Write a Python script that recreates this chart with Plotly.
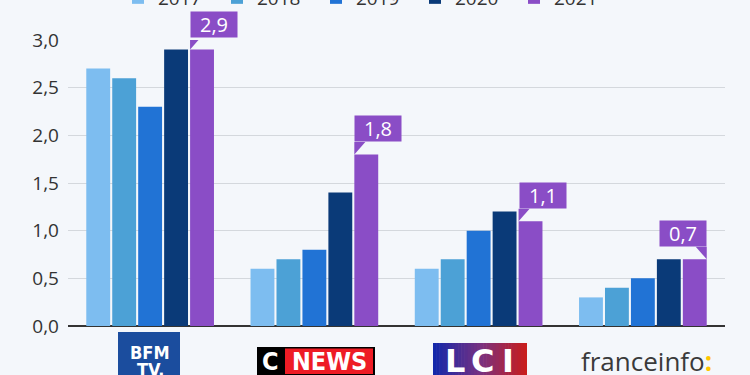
import plotly.graph_objects as go

channels = ["BFM TV", "CNEWS", "LCI", "franceinfo"]
years = ["2017", "2018", "2019", "2020", "2021"]
values = {
    "2017": [2.7, 0.6, 0.6, 0.3],
    "2018": [2.6, 0.7, 0.7, 0.4],
    "2019": [2.3, 0.8, 1.0, 0.5],
    "2020": [2.9, 1.4, 1.2, 0.7],
    "2021": [2.9, 1.8, 1.1, 0.7],
}
colors = ["#7dbdf0", "#4ca1d6", "#2173d5", "#0a3a78", "#8a4dc6"]
yticks = [0, 0.5, 1.0, 1.5, 2.0, 2.5, 3.0]

W, H = 750, 375
ML, MR, MT, MB = 68, 25, 40, 49
PW, PH = W - ML - MR, H - MT - MB
BARGAP, GROUPGAP = 0.21, 0.08

def px2paper_x(px):
    return (px - ML) / PW

def px2paper_y(py):
    return (H - MB - py) / PH

fig = go.Figure()
xs = list(range(len(channels)))
for y, c in zip(years, colors):
    fig.add_trace(go.Bar(x=xs, y=values[y], name=y, marker_color=c,
                         marker_line_width=0))

# callouts for 2021 values
n = len(years)
slot = (1 - BARGAP) / n
bw = slot * (1 - GROUPGAP)
purple = colors[-1]
for i, v in enumerate(values["2021"]):
    center = i - (1 - BARGAP) / 2 + slot * (n - 0.5)
    left, right = center - bw / 2, center + bw / 2
    last = i == len(channels) - 1
    fig.add_annotation(
        x=right if last else left, y=v, xref="x", yref="y",
        xanchor="right" if last else "left", yanchor="bottom",
        yshift=12, showarrow=False,
        text=f"{v:.1f}".replace(".", ","),
        font=dict(family="Open Sans", size=20, color="white"),
        bgcolor=purple, borderpad=2, width=42, height=21, align="center",
    )
    path = "M 0 0 L 0 12.5 L -11 12.5 Z" if last else "M 0 0 L 0 12.5 L 11 12.5 Z"
    fig.add_shape(type="path", xref="x", yref="y",
                  xsizemode="pixel", ysizemode="pixel",
                  xanchor=right if last else left, yanchor=v,
                  path=path, fillcolor=purple, line_width=0, layer="above")

def label(px, py, text, size, color="white", family="DejaVu Sans Condensed"):
    fig.add_annotation(xref="paper", yref="paper", x=px2paper_x(px), y=px2paper_y(py),
                       text=text, showarrow=False, xanchor="center", yanchor="middle",
                       font=dict(family=family, size=size, color=color), borderpad=0)

def box(x0, x1, y0, y1, color):
    fig.add_shape(type="rect", xref="paper", yref="paper",
                  x0=px2paper_x(x0), x1=px2paper_x(x1),
                  y0=px2paper_y(y0), y1=px2paper_y(y1),
                  fillcolor=color, line_width=0, layer="below")

# BFM TV
box(118, 180, 332, 390, "#1b4d9e")
label(150, 352.5, "<b>BFM</b>", 18)
label(150, 369.5, "<b>TV.</b>", 18)
# CNEWS
box(257, 375, 347, 390, "#000000")
box(285, 373, 348.5, 374, "#ee1c25")
label(270, 361, "<b>C</b>", 25)
label(329, 361, "<b>NEWS</b>", 25)
# LCI gradient
steps = 30
x0p, x1p = 433, 527
stops = [(20, 40, 170), (120, 50, 130), (200, 30, 30)]
for k in range(steps):
    t = k / (steps - 1)
    if t < 0.5:
        a, b, tt = stops[0], stops[1], t / 0.5
    else:
        a, b, tt = stops[1], stops[2], (t - 0.5) / 0.5
    col = "rgb(%d,%d,%d)" % tuple(int(a[j] + (b[j] - a[j]) * tt) for j in range(3))
    xa = x0p + (x1p - x0p) * k / steps
    xb = min(x0p + (x1p - x0p) * (k + 1) / steps + 0.6, x1p)
    box(xa, xb, 343, 390, col)
label(455, 361, "<b>L</b>", 32, family="DejaVu Sans")
label(482, 361, "<b>C</b>", 32, family="DejaVu Sans")
label(508, 361, "<b>I</b>", 32, family="DejaVu Sans")
# franceinfo
label(646, 361, "franceinfo<span style='color:#ffc600'><b>:</b></span>", 26,
      color="#3a3a3a", family="Open Sans")

fig.update_layout(
    width=W, height=H,
    margin=dict(l=ML, r=MR, t=MT, b=MB, autoexpand=False),
    paper_bgcolor="#f4f7fb", plot_bgcolor="#f4f7fb",
    barmode="group", bargap=BARGAP, bargroupgap=GROUPGAP,
    separators=", ",
    font=dict(family="Open Sans", size=19, color="#333333"),
    showlegend=True,
    legend=dict(orientation="h", x=px2paper_x(118), y=px2paper_y(-2),
                xanchor="left", yanchor="middle", xref="paper", yref="paper",
                entrywidth=54, entrywidthmode="pixels",
                font=dict(size=19, color="#333333"), bgcolor="rgba(0,0,0,0)"),
    xaxis=dict(range=[-0.5, len(channels) - 0.5], showticklabels=False,
               showgrid=False, zeroline=False, ticks="",
               tickvals=xs, ticktext=channels),
    yaxis=dict(range=[0, 3.0], tickvals=yticks, tickformat=".1f",
               showgrid=True, gridcolor="#d4d8dd", gridwidth=1,
               zeroline=True, zerolinecolor="#333333", zerolinewidth=1.5,
               ticks="", ticklabelstandoff=8, showline=False),
)

fig.write_html("out.html")
